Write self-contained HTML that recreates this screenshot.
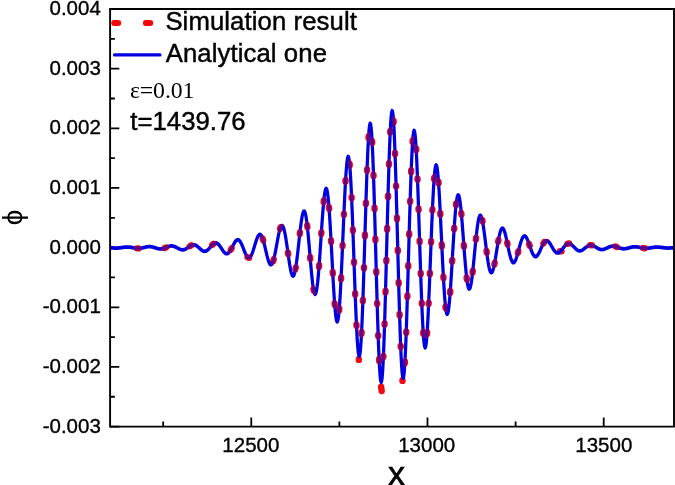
<!DOCTYPE html>
<html><head><meta charset="utf-8"><title>plot</title>
<style>html,body{margin:0;padding:0;background:#fff;width:675px;height:485px;overflow:hidden}</style>
</head><body>
<svg width="675" height="485" viewBox="0 0 675 485" style="display:block;position:absolute;left:0;top:0">
<rect width="675" height="485" fill="#fff"/>
<path d="M110.1,9.00 h9.2 M110.1,68.66 h9.2 M110.1,128.31 h9.2 M110.1,187.97 h9.2 M110.1,247.63 h9.2 M110.1,307.29 h9.2 M110.1,366.94 h9.2 M110.1,426.60 h9.2 M110.1,38.83 h4.8 M110.1,98.49 h4.8 M110.1,158.14 h4.8 M110.1,217.80 h4.8 M110.1,277.46 h4.8 M110.1,337.11 h4.8 M110.1,396.77 h4.8 M251.27,426.6 v-9.2 M427.49,426.6 v-9.2 M603.71,426.6 v-9.2 M163.17,426.6 v-5.2 M339.38,426.6 v-5.2 M515.60,426.6 v-5.2" stroke="#000" stroke-width="1.8" fill="none"/>
<clipPath id="pc"><rect x="110.1" y="9.0" width="563.9" height="417.6"/></clipPath>
<g clip-path="url(#pc)"><g transform="scale(1.0 1)">
<path d="M136.98,248.35 L137.14,248.36 L137.30,248.37 L137.46,248.38 L137.62,248.39 L137.78,248.39 L137.94,248.40 L138.10,248.40 L138.26,248.40 L138.42,248.40 L138.42,248.40 M164.72,248.01 L164.88,247.95 L165.04,247.89 L165.20,247.82 L165.36,247.76 L165.52,247.69 L165.68,247.63 L165.84,247.56 L166.00,247.49 L166.08,247.46 M189.96,246.12 L190.12,246.02 L190.28,245.92 L190.44,245.83 L190.60,245.74 L190.76,245.65 L190.92,245.56 L191.08,245.48 L191.24,245.40 L191.26,245.39 M212.24,244.91 L212.40,244.75 L212.56,244.59 L212.72,244.44 L212.88,244.29 L213.04,244.15 L213.20,244.01 L213.36,243.88 L213.38,243.87 M230.82,249.80 L230.98,249.51 L231.14,249.22 L231.30,248.93 L231.46,248.63 L231.58,248.40 M247.68,257.30 L247.84,257.43 L248.00,257.55 L248.16,257.65 L248.32,257.73 L248.48,257.79 L248.64,257.82 L248.80,257.84 L248.96,257.83 L249.02,257.82 M262.72,238.69 L262.88,239.17 L263.04,239.66 L263.20,240.18 L263.22,240.25 M273.26,260.95 L273.42,260.43 L273.58,259.87 L273.72,259.37 M280.06,228.74 L280.22,228.25 L280.38,227.81 L280.54,227.40 L280.62,227.21 M287.94,252.75 L288.10,253.89 L288.14,254.18 M295.50,269.02 L295.66,268.11 L295.78,267.39 M299.78,233.84 L299.94,232.43 L299.94,232.43 M307.22,225.49 L307.38,226.92 L307.38,226.92 M310.14,257.26 L310.26,258.68 M313.44,289.17 L313.60,290.08 L313.72,290.70 M319.02,266.79 L319.14,265.21 M321.30,233.71 L321.38,232.51 M323.68,202.13 L323.84,200.51 L323.84,200.51 M328.98,207.28 L329.10,208.86 M331.04,240.45 L331.12,241.93 M332.72,272.11 L332.80,273.59 M334.62,303.36 L334.72,304.69 M339.16,310.16 L339.28,308.71 M341.06,279.01 L341.14,277.37 M342.54,246.11 L342.58,245.17 M343.88,214.77 L343.92,213.86 M345.50,181.68 L345.58,180.31 M349.62,163.82 L349.76,165.34 M351.60,197.29 L351.64,198.20 M352.88,229.62 L352.92,230.71 M354.02,261.74 L354.06,262.88 M355.16,293.54 L355.20,294.61 M356.44,324.62 L356.50,325.89 M361.50,333.77 L361.58,332.20 M362.86,301.19 L362.90,300.07 M363.94,268.44 L363.98,267.15 M364.92,236.14 L364.96,234.81 M365.90,203.97 L365.94,202.69 M367.02,170.62 L367.06,169.54 M368.50,137.86 L368.58,136.57 M372.12,141.32 L372.20,142.84 M373.50,174.84 L373.54,176.02 M374.52,207.70 L374.56,209.09 M375.38,238.58 L375.42,240.05 M376.26,271.13 L376.30,272.60 M377.16,303.29 L377.18,303.98 M378.16,335.08 L378.20,336.23 M379.12,359.31 L379.20,360.98 M383.38,357.04 L383.42,356.14 M384.56,324.73 L384.60,323.46 M385.50,292.42 L385.54,290.95 M386.32,261.41 L386.36,259.87 M387.14,229.57 L387.18,228.03 M388.00,197.19 L388.04,195.74 M388.96,164.64 L389.00,163.40 M390.18,132.45 L390.24,131.20 M393.54,120.83 L393.62,122.04 M395.02,153.00 L395.06,154.13 M396.06,185.81 L396.08,186.50 M396.94,217.71 L396.98,219.22 M397.78,249.73 L397.82,251.26 M398.64,282.13 L398.68,283.59 M399.56,314.16 L399.60,315.45 M400.66,345.92 L400.70,346.91 M404.86,363.18 L404.94,361.78 M406.20,332.77 L406.24,331.66 M407.36,296.99 L407.40,295.65 M408.24,266.57 L408.28,265.16 M409.14,234.79 L409.18,233.40 M410.12,201.85 L410.16,200.58 M411.14,172.04 L411.20,170.48 M412.60,141.92 L412.70,140.51 M416.14,148.59 L416.22,150.02 M417.50,178.69 L417.54,179.74 M418.56,208.67 L418.60,209.87 M419.60,240.65 L419.64,241.90 M420.66,272.90 L420.70,274.07 M421.76,302.90 L421.80,303.89 M423.20,332.34 L423.30,333.86 M427.04,333.92 L427.14,332.47 M428.64,303.86 L428.68,302.95 M429.86,274.04 L429.90,273.01 M431.08,242.34 L431.12,241.31 M432.40,210.34 L432.44,209.46 M434.12,179.03 L434.22,177.71 M438.48,181.77 L438.58,183.18 M440.28,213.08 L440.36,214.70 M441.78,244.56 L441.86,246.26 M443.38,276.61 L443.46,278.06 M445.52,306.57 L445.68,307.95 L445.70,308.11 M450.16,292.70 L450.28,291.08 M452.16,261.46 L452.24,260.11 M454.12,229.14 L454.20,227.93 M456.06,204.98 L456.22,203.56 L456.22,203.56 M461.32,213.19 L461.44,214.51 M463.82,244.90 L463.94,246.50 M466.66,277.62 L466.82,278.94 L466.86,279.26 M472.62,272.41 L472.78,270.96 L472.78,270.96 M475.88,239.50 L476.04,237.96 L476.04,237.96 M482.24,219.92 L482.40,220.68 L482.56,221.49 L482.56,221.49 M486.54,250.94 L486.70,252.19 L486.74,252.50 M494.40,264.29 L494.56,263.46 L494.70,262.72 M498.16,241.68 L498.32,240.77 L498.44,240.10 M507.22,242.71 L507.38,243.49 L507.54,244.27 L507.54,244.27 M517.88,252.90 L518.04,252.30 L518.20,251.70 L518.28,251.40 M529.14,244.16 L529.30,244.63 L529.46,245.09 L529.62,245.56 L529.66,245.68 M543.48,243.40 L543.64,243.14 L543.80,242.89 L543.96,242.65 L544.12,242.42 L544.28,242.21 L544.36,242.11 M567.60,243.69 L567.76,243.63 L567.92,243.58 L568.08,243.54 L568.24,243.51 L568.40,243.49 L568.56,243.48 L568.72,243.48 L568.88,243.48 L569.02,243.49 M590.28,245.18 L590.44,245.16 L590.60,245.15 L590.76,245.15 L590.92,245.15 L591.08,245.16 L591.24,245.17 L591.40,245.18 L591.56,245.21 L591.72,245.23 L591.72,245.23 M615.40,246.49 L615.56,246.54 L615.72,246.58 L615.88,246.63 L616.04,246.67 L616.20,246.72 L616.36,246.78 L616.52,246.83 L616.68,246.88 L616.80,246.92 M643.18,248.08 L643.34,248.11 L643.50,248.13 L643.66,248.15 L643.82,248.17 L643.98,248.19 L644.14,248.21 L644.30,248.22 L644.46,248.24 L644.62,248.25 L644.62,248.25" fill="none" stroke="#ea0a1c" stroke-width="6.4" stroke-linecap="round" stroke-linejoin="round"/>
<path d="M358.80,359.3 v0.6 M381.10,386.8 L381.70,391 M402.50,380.3 v0.6 M560.00,251.3 h1.5" fill="none" stroke="#f20a12" stroke-width="6.4" stroke-linecap="round"/>
</g><g transform="scale(0.87 1)">
<path d="M126.55,247.59 L127.13,247.65 L127.70,247.71 L128.28,247.76 L128.85,247.82 L129.43,247.88 L130.00,247.93 L130.57,247.97 L131.15,248.01 L131.72,248.04 L132.30,248.07 L132.87,248.08 L133.45,248.09 L134.02,248.09 L134.60,248.08 L135.17,248.05 L135.75,248.02 L136.32,247.99 L136.90,247.94 L137.47,247.88 L138.05,247.82 L138.62,247.75 L139.20,247.68 L139.77,247.61 L140.34,247.53 L140.92,247.46 L141.49,247.39 L142.07,247.32 L142.64,247.25 L143.22,247.19 L143.79,247.14 L144.37,247.10 L144.94,247.06 L145.52,247.04 L146.09,247.03 L146.67,247.03 L147.24,247.05 L147.82,247.07 L148.39,247.11 L148.97,247.16 L149.54,247.22 L150.11,247.29 L150.69,247.37 L151.26,247.46 L151.84,247.55 L152.41,247.64 L152.99,247.74 L153.56,247.84 L154.14,247.93 L154.71,248.02 L155.29,248.11 L155.86,248.19 L156.44,248.25 L157.01,248.31 L157.59,248.36 L158.16,248.39 L158.74,248.40 L159.31,248.40 L159.89,248.38 L160.46,248.35 L161.03,248.30 L161.61,248.24 L162.18,248.16 L162.76,248.07 L163.33,247.97 L163.91,247.86 L164.48,247.75 L165.06,247.62 L165.63,247.50 L166.21,247.37 L166.78,247.25 L167.36,247.13 L167.93,247.02 L168.51,246.92 L169.08,246.83 L169.66,246.75 L170.23,246.69 L170.80,246.65 L171.38,246.63 L171.95,246.63 L172.53,246.65 L173.10,246.69 L173.68,246.75 L174.25,246.83 L174.83,246.92 L175.40,247.04 L175.98,247.17 L176.55,247.31 L177.13,247.46 L177.70,247.62 L178.28,247.78 L178.85,247.95 L179.43,248.11 L180.00,248.26 L180.57,248.41 L181.15,248.54 L181.72,248.66 L182.30,248.76 L182.87,248.83 L183.45,248.89 L184.02,248.92 L184.60,248.92 L185.17,248.90 L185.75,248.85 L186.32,248.78 L186.90,248.68 L187.47,248.55 L188.05,248.41 L188.62,248.24 L189.20,248.06 L189.77,247.86 L190.34,247.66 L190.92,247.45 L191.49,247.24 L192.07,247.03 L192.64,246.83 L193.22,246.64 L193.79,246.47 L194.37,246.31 L194.94,246.18 L195.52,246.08 L196.09,246.00 L196.67,245.96 L197.24,245.95 L197.82,245.98 L198.39,246.04 L198.97,246.13 L199.54,246.26 L200.11,246.41 L200.69,246.60 L201.26,246.81 L201.84,247.05 L202.41,247.30 L202.99,247.56 L203.56,247.83 L204.14,248.11 L204.71,248.38 L205.29,248.64 L205.86,248.89 L206.44,249.11 L207.01,249.31 L207.59,249.49 L208.16,249.62 L208.74,249.72 L209.31,249.78 L209.89,249.80 L210.46,249.77 L211.03,249.70 L211.61,249.58 L212.18,249.42 L212.76,249.22 L213.33,248.99 L213.91,248.71 L214.48,248.41 L215.06,248.09 L215.63,247.75 L216.21,247.40 L216.78,247.05 L217.36,246.69 L217.93,246.35 L218.51,246.03 L219.08,245.74 L219.66,245.47 L220.23,245.24 L220.80,245.06 L221.38,244.93 L221.95,244.84 L222.53,244.82 L223.10,244.85 L223.68,244.94 L224.25,245.08 L224.83,245.28 L225.40,245.54 L225.98,245.84 L226.55,246.19 L227.13,246.57 L227.70,246.99 L228.28,247.43 L228.85,247.88 L229.43,248.34 L230.00,248.79 L230.57,249.24 L231.15,249.65 L231.72,250.04 L232.30,250.39 L232.87,250.69 L233.45,250.93 L234.02,251.11 L234.60,251.23 L235.17,251.27 L235.75,251.24 L236.32,251.13 L236.90,250.95 L237.47,250.70 L238.05,250.37 L238.62,249.99 L239.20,249.54 L239.77,249.05 L240.34,248.51 L240.92,247.95 L241.49,247.36 L242.07,246.77 L242.64,246.18 L243.22,245.60 L243.79,245.06 L244.37,244.55 L244.94,244.10 L245.52,243.70 L246.09,243.38 L246.67,243.14 L247.24,242.98 L247.82,242.92 L248.39,242.95 L248.97,243.08 L249.54,243.30 L250.11,243.62 L250.69,244.03 L251.26,244.52 L251.84,245.09 L252.41,245.72 L252.99,246.41 L253.56,247.14 L254.14,247.90 L254.71,248.66 L255.29,249.43 L255.86,250.17 L256.44,250.89 L257.01,251.55 L257.59,252.14 L258.16,252.66 L258.74,253.09 L259.31,253.41 L259.89,253.63 L260.46,253.72 L261.03,253.69 L261.61,253.54 L262.18,253.26 L262.76,252.86 L263.33,252.34 L263.91,251.72 L264.48,250.99 L265.06,250.18 L265.63,249.30 L266.21,248.36 L266.78,247.38 L267.36,246.39 L267.93,245.40 L268.51,244.43 L269.08,243.50 L269.66,242.64 L270.23,241.86 L270.80,241.18 L271.38,240.61 L271.95,240.18 L272.53,239.89 L273.10,239.75 L273.68,239.77 L274.25,239.95 L274.83,240.30 L275.40,240.80 L275.98,241.45 L276.55,242.25 L277.13,243.18 L277.70,244.22 L278.28,245.35 L278.85,246.56 L279.43,247.82 L280.00,249.10 L280.57,250.39 L281.15,251.65 L281.72,252.85 L282.30,253.98 L282.87,255.00 L283.45,255.90 L284.02,256.64 L284.60,257.22 L285.17,257.62 L285.75,257.81 L286.32,257.81 L286.90,257.59 L287.47,257.17 L288.05,256.54 L288.62,255.71 L289.20,254.70 L289.77,253.51 L290.34,252.18 L290.92,250.72 L291.49,249.17 L292.07,247.55 L292.64,245.89 L293.22,244.22 L293.79,242.59 L294.37,241.02 L294.94,239.56 L295.52,238.22 L296.09,237.04 L296.67,236.06 L297.24,235.29 L297.82,234.75 L298.39,234.47 L298.97,234.45 L299.54,234.70 L300.11,235.22 L300.69,236.01 L301.26,237.06 L301.84,238.35 L302.41,239.86 L302.99,241.56 L303.56,243.43 L304.14,245.43 L304.71,247.52 L305.29,249.67 L305.86,251.82 L306.44,253.93 L307.01,255.97 L307.59,257.88 L308.16,259.63 L308.74,261.17 L309.31,262.47 L309.89,263.50 L310.46,264.22 L311.03,264.62 L311.61,264.68 L312.18,264.39 L312.76,263.75 L313.33,262.76 L313.91,261.44 L314.48,259.80 L315.06,257.88 L315.63,255.70 L316.21,253.30 L316.78,250.73 L317.36,248.04 L317.93,245.28 L318.51,242.49 L319.08,239.75 L319.66,237.11 L320.23,234.62 L320.80,232.34 L321.38,230.32 L321.95,228.61 L322.53,227.25 L323.10,226.28 L323.68,225.72 L324.25,225.60 L324.83,225.93 L325.40,226.72 L325.98,227.95 L326.55,229.61 L327.13,231.69 L327.70,234.13 L328.28,236.92 L328.85,239.99 L329.43,243.28 L330.00,246.74 L330.57,250.31 L331.15,253.89 L331.72,257.44 L332.30,260.86 L332.87,264.09 L333.45,267.06 L334.02,269.70 L334.60,271.95 L335.17,273.74 L335.75,275.05 L336.32,275.82 L336.90,276.03 L337.47,275.66 L338.05,274.70 L338.62,273.17 L339.20,271.08 L339.77,268.46 L340.34,265.34 L340.92,261.80 L341.49,257.88 L342.07,253.66 L342.64,249.22 L343.22,244.64 L343.79,240.02 L344.37,235.46 L344.94,231.03 L345.52,226.85 L346.09,223.00 L346.67,219.56 L347.24,216.62 L347.82,214.26 L348.39,212.52 L348.97,211.46 L349.54,211.13 L350.11,211.54 L350.69,212.69 L351.26,214.59 L351.84,217.22 L352.41,220.52 L352.99,224.46 L353.56,228.96 L354.14,233.95 L354.71,239.34 L355.29,245.01 L355.86,250.86 L356.44,256.79 L357.01,262.65 L357.59,268.34 L358.16,273.73 L358.74,278.71 L359.31,283.16 L359.89,286.98 L360.46,290.08 L361.03,292.37 L361.61,293.80 L362.18,294.31 L362.76,293.87 L363.33,292.47 L363.91,290.13 L364.48,286.85 L365.06,282.70 L365.63,277.74 L366.21,272.05 L366.78,265.74 L367.36,258.91 L367.93,251.70 L368.51,244.26 L369.08,236.72 L369.66,229.23 L370.23,221.97 L370.80,215.07 L371.38,208.69 L371.95,202.98 L372.53,198.06 L373.10,194.04 L373.68,191.05 L374.25,189.15 L374.83,188.41 L375.40,188.87 L375.98,190.54 L376.55,193.43 L377.13,197.48 L377.70,202.65 L378.28,208.86 L378.85,215.98 L379.43,223.91 L380.00,232.49 L380.57,241.56 L381.15,250.94 L381.72,260.44 L382.30,269.88 L382.87,279.05 L383.45,287.77 L384.02,295.84 L384.60,303.09 L385.17,309.35 L385.75,314.46 L386.32,318.31 L386.90,320.79 L387.47,321.81 L388.05,321.33 L388.62,319.33 L389.20,315.82 L389.77,310.85 L390.34,304.48 L390.92,296.82 L391.49,288.00 L392.07,278.19 L392.64,267.56 L393.22,256.33 L393.79,244.70 L394.37,232.91 L394.94,221.20 L395.52,209.82 L396.09,199.00 L396.67,188.97 L397.24,179.97 L397.82,172.19 L398.39,165.81 L398.97,161.00 L399.54,157.87 L400.11,156.53 L400.69,157.03 L401.26,159.40 L401.84,163.61 L402.41,169.62 L402.99,177.33 L403.56,186.61 L404.14,197.29 L404.71,209.19 L405.29,222.07 L405.86,235.68 L406.44,249.76 L407.01,264.02 L407.59,278.18 L408.16,291.93 L408.74,305.00 L409.31,317.09 L409.89,327.95 L410.46,337.33 L411.03,345.01 L411.61,350.82 L412.18,354.60 L412.76,356.24 L413.33,355.69 L413.91,352.93 L414.48,347.96 L415.06,340.88 L415.63,331.80 L416.21,320.87 L416.78,308.30 L417.36,294.32 L417.93,279.21 L418.51,263.27 L419.08,246.80 L419.66,230.14 L420.23,213.65 L420.80,197.65 L421.38,182.48 L421.95,168.47 L422.53,155.92 L423.10,145.10 L423.68,136.26 L424.25,129.60 L424.83,125.28 L425.40,123.41 L425.98,124.06 L426.55,127.23 L427.13,132.90 L427.70,140.95 L428.28,151.26 L428.85,163.62 L429.43,177.81 L430.00,193.53 L430.57,210.48 L431.15,228.33 L431.72,246.70 L432.30,265.23 L432.87,283.53 L433.45,301.23 L434.02,317.95 L434.60,333.34 L435.17,347.08 L435.75,358.88 L436.32,368.47 L436.90,375.66 L437.47,380.28 L438.05,382.21 L438.62,381.42 L439.20,377.90 L439.77,371.72 L440.34,362.99 L440.92,351.88 L441.49,338.61 L442.07,323.46 L442.64,306.72 L443.22,288.74 L443.79,269.89 L444.37,250.55 L444.94,231.12 L445.52,212.00 L446.09,193.58 L446.67,176.25 L447.24,160.36 L447.82,146.24 L448.39,134.18 L448.97,124.42 L449.54,117.17 L450.11,112.58 L450.69,110.74 L451.26,111.67 L451.84,115.36 L452.41,121.73 L452.99,130.64 L453.56,141.90 L454.14,155.27 L454.71,170.48 L455.29,187.19 L455.86,205.08 L456.44,223.75 L457.01,242.84 L457.59,261.94 L458.16,280.66 L458.74,298.62 L459.31,315.45 L459.89,330.82 L460.46,344.42 L461.03,355.98 L461.61,365.27 L462.18,372.13 L462.76,376.41 L463.33,378.06 L463.91,377.06 L464.48,373.45 L465.06,367.32 L465.63,358.82 L466.21,348.13 L466.78,335.51 L467.36,321.21 L467.93,305.56 L468.51,288.87 L469.08,271.51 L469.66,253.82 L470.23,236.19 L470.80,218.96 L471.38,202.49 L471.95,187.10 L472.53,173.09 L473.10,160.75 L473.68,150.29 L474.25,141.92 L474.83,135.78 L475.40,131.96 L475.98,130.53 L476.55,131.48 L477.13,134.76 L477.70,140.28 L478.28,147.89 L478.85,157.43 L479.43,168.65 L480.00,181.32 L480.57,195.16 L481.15,209.87 L481.72,225.14 L482.30,240.65 L482.87,256.09 L483.45,271.13 L484.02,285.49 L484.60,298.87 L485.17,311.02 L485.75,321.71 L486.32,330.75 L486.90,337.97 L487.47,343.27 L488.05,346.55 L488.62,347.79 L489.20,346.99 L489.77,344.20 L490.34,339.52 L490.92,333.05 L491.49,324.98 L492.07,315.47 L492.64,304.76 L493.22,293.08 L493.79,280.68 L494.37,267.83 L494.94,254.78 L495.52,241.82 L496.09,229.20 L496.67,217.18 L497.24,205.97 L497.82,195.81 L498.39,186.87 L498.97,179.31 L499.54,173.26 L500.11,168.82 L500.69,166.04 L501.26,164.96 L501.84,165.56 L502.41,167.81 L502.99,171.61 L503.56,176.88 L504.14,183.46 L504.71,191.22 L505.29,199.96 L505.86,209.49 L506.44,219.61 L507.01,230.10 L507.59,240.74 L508.16,251.31 L508.74,261.60 L509.31,271.40 L509.89,280.54 L510.46,288.83 L511.03,296.14 L511.61,302.32 L512.18,307.28 L512.76,310.94 L513.33,313.25 L513.91,314.20 L514.48,313.79 L515.06,312.06 L515.63,309.07 L516.21,304.90 L516.78,299.67 L517.36,293.50 L517.93,286.54 L518.51,278.93 L519.08,270.86 L519.66,262.48 L520.23,253.98 L520.80,245.53 L521.38,237.30 L521.95,229.45 L522.53,222.12 L523.10,215.47 L523.68,209.60 L524.25,204.62 L524.83,200.60 L525.40,197.62 L525.98,195.71 L526.55,194.88 L527.13,195.13 L527.70,196.42 L528.28,198.72 L528.85,201.95 L529.43,206.03 L530.00,210.86 L530.57,216.32 L531.15,222.30 L531.72,228.65 L532.30,235.25 L532.87,241.95 L533.45,248.62 L534.02,255.13 L534.60,261.34 L535.17,267.15 L535.75,272.43 L536.32,277.10 L536.90,281.08 L537.47,284.30 L538.05,286.71 L538.62,288.28 L539.20,289.00 L539.77,288.88 L540.34,287.92 L540.92,286.19 L541.49,283.71 L542.07,280.57 L542.64,276.83 L543.22,272.59 L543.79,267.94 L544.37,262.99 L544.94,257.84 L545.52,252.59 L546.09,247.37 L546.67,242.27 L547.24,237.38 L547.82,232.82 L548.39,228.65 L548.97,224.96 L549.54,221.80 L550.11,219.23 L550.69,217.30 L551.26,216.01 L551.84,215.39 L552.41,215.43 L552.99,216.11 L553.56,217.41 L554.14,219.29 L554.71,221.70 L555.29,224.57 L555.86,227.84 L556.44,231.44 L557.01,235.28 L557.59,239.28 L558.16,243.36 L558.74,247.43 L559.31,251.41 L559.89,255.23 L560.46,258.81 L561.03,262.08 L561.61,264.99 L562.18,267.48 L562.76,269.52 L563.33,271.07 L563.91,272.12 L564.48,272.65 L565.06,272.67 L565.63,272.18 L566.21,271.22 L566.78,269.80 L567.36,267.96 L567.93,265.77 L568.51,263.25 L569.08,260.48 L569.66,257.52 L570.23,254.42 L570.80,251.26 L571.38,248.10 L571.95,245.00 L572.53,242.02 L573.10,239.23 L573.68,236.66 L574.25,234.38 L574.83,232.41 L575.40,230.80 L575.98,229.56 L576.55,228.70 L577.13,228.25 L577.70,228.20 L578.28,228.54 L578.85,229.26 L579.43,230.33 L580.00,231.72 L580.57,233.39 L581.15,235.32 L581.72,237.45 L582.30,239.73 L582.87,242.12 L583.45,244.57 L584.02,247.02 L584.60,249.43 L585.17,251.74 L585.75,253.93 L586.32,255.93 L586.90,257.72 L587.47,259.27 L588.05,260.55 L588.62,261.54 L589.20,262.23 L589.77,262.60 L590.34,262.67 L590.92,262.44 L591.49,261.92 L592.07,261.11 L592.64,260.06 L593.22,258.78 L593.79,257.31 L594.37,255.68 L594.94,253.92 L595.52,252.08 L596.09,250.19 L596.67,248.29 L597.24,246.42 L597.82,244.62 L598.39,242.92 L598.97,241.36 L599.54,239.95 L600.11,238.74 L600.69,237.72 L601.26,236.94 L601.84,236.38 L602.41,236.06 L602.99,235.99 L603.56,236.14 L604.14,236.53 L604.71,237.13 L605.29,237.92 L605.86,238.90 L606.44,240.02 L607.01,241.27 L607.59,242.62 L608.16,244.04 L608.74,245.50 L609.31,246.97 L609.89,248.42 L610.46,249.82 L611.03,251.14 L611.61,252.36 L612.18,253.46 L612.76,254.42 L613.33,255.21 L613.91,255.84 L614.48,256.29 L615.06,256.55 L615.63,256.63 L616.21,256.53 L616.78,256.25 L617.36,255.80 L617.93,255.20 L618.51,254.46 L619.08,253.60 L619.66,252.64 L620.23,251.60 L620.80,250.51 L621.38,249.38 L621.95,248.25 L622.53,247.13 L623.10,246.04 L623.68,245.01 L624.25,244.06 L624.83,243.20 L625.40,242.45 L625.98,241.82 L626.55,241.32 L627.13,240.96 L627.70,240.75 L628.28,240.67 L628.85,240.74 L629.43,240.94 L630.00,241.28 L630.57,241.73 L631.15,242.29 L631.72,242.94 L632.30,243.68 L632.87,244.47 L633.45,245.32 L634.02,246.18 L634.60,247.06 L635.17,247.93 L635.75,248.77 L636.32,249.57 L636.90,250.32 L637.47,250.99 L638.05,251.58 L638.62,252.07 L639.20,252.47 L639.77,252.76 L640.34,252.93 L640.92,253.00 L641.49,252.96 L642.07,252.82 L642.64,252.57 L643.22,252.23 L643.79,251.80 L644.37,251.30 L644.94,250.74 L645.52,250.13 L646.09,249.48 L646.67,248.81 L647.24,248.13 L647.82,247.46 L648.39,246.81 L648.97,246.19 L649.54,245.61 L650.11,245.08 L650.69,244.62 L651.26,244.23 L651.84,243.92 L652.41,243.69 L652.99,243.54 L653.56,243.48 L654.14,243.50 L654.71,243.61 L655.29,243.79 L655.86,244.05 L656.44,244.37 L657.01,244.75 L657.59,245.18 L658.16,245.65 L658.74,246.15 L659.31,246.66 L659.89,247.19 L660.46,247.71 L661.03,248.21 L661.61,248.70 L662.18,249.15 L662.76,249.56 L663.33,249.92 L663.91,250.23 L664.48,250.47 L665.06,250.66 L665.63,250.78 L666.21,250.83 L666.78,250.82 L667.36,250.75 L667.93,250.61 L668.51,250.42 L669.08,250.17 L669.66,249.88 L670.23,249.56 L670.80,249.20 L671.38,248.81 L671.95,248.42 L672.53,248.01 L673.10,247.61 L673.68,247.22 L674.25,246.84 L674.83,246.49 L675.40,246.17 L675.98,245.89 L676.55,245.64 L677.13,245.45 L677.70,245.30 L678.28,245.20 L678.85,245.15 L679.43,245.16 L680.00,245.21 L680.57,245.31 L681.15,245.46 L681.72,245.64 L682.30,245.86 L682.87,246.11 L683.45,246.39 L684.02,246.68 L684.60,246.99 L685.17,247.30 L685.75,247.61 L686.32,247.92 L686.90,248.21 L687.47,248.48 L688.05,248.73 L688.62,248.95 L689.20,249.14 L689.77,249.30 L690.34,249.42 L690.92,249.50 L691.49,249.54 L692.07,249.54 L692.64,249.50 L693.22,249.43 L693.79,249.32 L694.37,249.18 L694.94,249.01 L695.52,248.82 L696.09,248.61 L696.67,248.38 L697.24,248.15 L697.82,247.91 L698.39,247.66 L698.97,247.43 L699.54,247.20 L700.11,246.99 L700.69,246.79 L701.26,246.62 L701.84,246.47 L702.41,246.35 L702.99,246.25 L703.56,246.19 L704.14,246.16 L704.71,246.15 L705.29,246.18 L705.86,246.23 L706.44,246.31 L707.01,246.42 L707.59,246.55 L708.16,246.69 L708.74,246.86 L709.31,247.03 L709.89,247.21 L710.46,247.40 L711.03,247.58 L711.61,247.77 L712.18,247.94 L712.76,248.11 L713.33,248.26 L713.91,248.39 L714.48,248.51 L715.06,248.61 L715.63,248.68 L716.21,248.74 L716.78,248.76 L717.36,248.77 L717.93,248.75 L718.51,248.71 L719.08,248.65 L719.66,248.57 L720.23,248.47 L720.80,248.36 L721.38,248.24 L721.95,248.11 L722.53,247.97 L723.10,247.82 L723.68,247.68 L724.25,247.54 L724.83,247.40 L725.40,247.27 L725.98,247.15 L726.55,247.05 L727.13,246.95 L727.70,246.88 L728.28,246.82 L728.85,246.78 L729.43,246.75 L730.00,246.75 L730.57,246.76 L731.15,246.79 L731.72,246.83 L732.30,246.89 L732.87,246.97 L733.45,247.05 L734.02,247.15 L734.60,247.25 L735.17,247.36 L735.75,247.47 L736.32,247.58 L736.90,247.69 L737.47,247.79 L738.05,247.89 L738.62,247.99 L739.20,248.07 L739.77,248.14 L740.34,248.20 L740.92,248.25 L741.49,248.28 L742.07,248.30 L742.64,248.31 L743.22,248.30 L743.79,248.28 L744.37,248.25 L744.94,248.20 L745.52,248.15 L746.09,248.08 L746.67,248.01 L747.24,247.93 L747.82,247.85 L748.39,247.76 L748.97,247.68 L749.54,247.59 L750.11,247.51 L750.69,247.43 L751.26,247.36 L751.84,247.29 L752.41,247.24 L752.99,247.19 L753.56,247.15 L754.14,247.12 L754.71,247.11 L755.29,247.10 L755.86,247.11 L756.44,247.12 L757.01,247.15 L757.59,247.18 L758.16,247.22 L758.74,247.27 L759.31,247.33 L759.89,247.39 L760.46,247.45 L761.03,247.52 L761.61,247.59 L762.18,247.65 L762.76,247.72 L763.33,247.78 L763.91,247.83 L764.48,247.88 L765.06,247.93 L765.63,247.96 L766.21,247.99 L766.78,248.02 L767.36,248.03 L767.93,248.04 L768.51,248.03 L769.08,248.02 L769.66,248.00 L770.23,247.98 L770.80,247.94 L771.38,247.91 L771.95,247.86 L772.53,247.82 L773.10,247.77 L773.68,247.72 L774.25,247.67" fill="none" stroke="#0000e0" stroke-width="3.75" stroke-linecap="butt" stroke-linejoin="round"/>
<path d="M154.85,248.05 L155.03,248.07 L155.22,248.10 L155.40,248.13 L155.59,248.15 L155.77,248.18 L155.95,248.20 L156.14,248.22 L156.32,248.24 L156.51,248.26 L156.69,248.28 L156.87,248.30 L157.06,248.32 L157.24,248.33 L157.43,248.34 L157.61,248.36 L157.79,248.37 L157.98,248.38 L158.16,248.39 L158.34,248.39 L158.53,248.40 L158.71,248.40 L158.90,248.40 L159.08,248.40 L159.26,248.40 L159.45,248.40 L159.63,248.39 L159.82,248.39 L160.00,248.38 L160.18,248.37 L160.37,248.36 L160.55,248.34 L160.74,248.33 L160.92,248.31 L161.10,248.30 L161.29,248.28 L161.47,248.26 L161.66,248.24 L161.70,248.23 M186.80,248.70 L186.99,248.66 L187.17,248.62 L187.36,248.58 L187.54,248.54 L187.72,248.49 L187.91,248.44 L188.09,248.39 L188.28,248.34 L188.46,248.29 L188.64,248.23 L188.83,248.18 L189.01,248.12 L189.20,248.06 L189.38,248.00 L189.56,247.94 L189.75,247.87 L189.93,247.81 L190.11,247.74 L190.30,247.68 L190.48,247.61 L190.67,247.54 L190.85,247.48 L191.03,247.41 L191.22,247.34 L191.40,247.27 L191.59,247.20 L191.77,247.14 L191.95,247.07 L192.14,247.01 L192.32,246.94 L192.51,246.88 L192.69,246.81 L192.87,246.75 L193.06,246.69 L193.24,246.63 L193.36,246.60 M216.11,247.46 L216.30,247.34 L216.48,247.23 L216.67,247.12 L216.85,247.00 L217.03,246.89 L217.22,246.78 L217.40,246.67 L217.59,246.56 L217.77,246.45 L217.95,246.34 L218.14,246.24 L218.32,246.13 L218.51,246.03 L218.69,245.93 L218.87,245.84 L219.06,245.75 L219.24,245.66 L219.43,245.57 L219.61,245.49 L219.79,245.41 L219.98,245.34 L220.16,245.27 L220.34,245.20 L220.53,245.14 L220.71,245.09 L220.90,245.04 L221.08,244.99 L221.26,244.95 L221.45,244.91 L221.63,244.88 L221.82,244.86 L222.00,244.84 L222.18,244.83 L222.37,244.82 L222.37,244.82 M242.11,246.72 L242.30,246.53 L242.48,246.34 L242.67,246.16 L242.85,245.97 L243.03,245.79 L243.22,245.60 L243.40,245.43 L243.59,245.25 L243.77,245.08 L243.95,244.91 L244.14,244.75 L244.32,244.59 L244.51,244.44 L244.69,244.29 L244.87,244.15 L245.06,244.01 L245.24,243.88 L245.43,243.76 L245.61,243.65 L245.79,243.54 L245.98,243.44 L246.16,243.35 L246.34,243.26 L246.53,243.19 L246.71,243.12 L246.90,243.07 L247.08,243.02 L247.26,242.98 L247.45,242.95 L247.63,242.93 L247.66,242.93 M263.75,251.90 L263.93,251.69 L264.11,251.47 L264.30,251.23 L264.48,250.99 L264.67,250.74 L264.85,250.48 L265.03,250.21 L265.22,249.94 L265.40,249.66 L265.59,249.37 L265.77,249.08 L265.95,248.78 L266.14,248.47 L266.32,248.17 L266.51,247.85 L266.69,247.54 L266.87,247.22 L267.06,246.91 L267.24,246.59 L267.43,246.27 L267.49,246.15 M283.06,255.30 L283.24,255.59 L283.43,255.86 L283.61,256.12 L283.79,256.36 L283.98,256.59 L284.16,256.80 L284.34,256.99 L284.53,257.16 L284.71,257.31 L284.90,257.45 L285.08,257.57 L285.26,257.66 L285.45,257.74 L285.63,257.79 L285.82,257.83 L286.00,257.84 L286.18,257.83 L286.37,257.80 L286.55,257.75 L286.74,257.68 L286.92,257.58 L287.10,257.47 L287.29,257.33 L287.47,257.17 L287.66,256.99 L287.84,256.79 L288.02,256.57 L288.21,256.33 L288.23,256.30 M300.90,236.36 L301.08,236.70 L301.26,237.06 L301.45,237.44 L301.63,237.86 L301.82,238.29 L302.00,238.75 L302.18,239.23 L302.37,239.73 L302.55,240.25 L302.74,240.79 L302.92,241.35 L303.10,241.92 L303.29,242.51 L303.36,242.74 M313.03,263.32 L313.22,262.98 L313.40,262.62 L313.59,262.22 L313.77,261.79 L313.95,261.32 L314.14,260.82 L314.32,260.29 L314.51,259.73 L314.69,259.14 L314.87,258.52 L315.06,257.88 L315.24,257.21 L315.33,256.86 M321.13,231.18 L321.31,230.55 L321.49,229.96 L321.68,229.39 L321.86,228.86 L322.05,228.37 L322.23,227.91 L322.41,227.50 L322.60,227.12 L322.78,226.78 L322.97,226.48 L323.15,226.22 L323.33,226.01 L323.52,225.84 L323.70,225.71 L323.89,225.63 L324.07,225.59 L324.25,225.60 L324.37,225.63 M330.55,250.16 L330.74,251.31 L330.92,252.46 L331.10,253.61 L331.29,254.75 L331.47,255.89 L331.61,256.74 M339.08,271.54 L339.26,270.79 L339.45,269.99 L339.63,269.13 L339.82,268.22 L340.00,267.27 L340.18,266.26 L340.37,265.21 L340.41,264.94 M344.23,236.54 L344.41,235.10 L344.60,233.66 L344.78,232.25 L344.97,230.86 L345.10,229.83 M352.76,222.81 L352.94,224.12 L353.13,225.49 L353.31,226.92 L353.49,228.40 L353.63,229.54 M356.23,254.65 L356.41,256.55 L356.60,258.44 L356.78,260.32 L356.87,261.26 M359.84,286.70 L360.02,287.79 L360.21,288.81 L360.39,289.75 L360.57,290.60 L360.76,291.37 L360.94,292.06 L361.13,292.66 L361.31,293.17 L361.36,293.28 M366.46,269.34 L366.64,267.30 L366.83,265.21 L367.01,263.06 L367.03,262.79 M369.10,236.41 L369.29,234.01 L369.47,231.61 L369.61,229.83 M371.77,204.73 L371.95,202.98 L372.14,201.31 L372.32,199.73 L372.51,198.24 L372.53,198.06 M377.91,204.77 L378.09,206.76 L378.28,208.86 L378.46,211.04 L378.48,211.32 M380.34,237.88 L380.53,240.82 L380.71,243.79 L380.76,244.53 M382.28,269.51 L382.46,272.48 L382.64,275.43 L382.69,276.16 M384.39,300.59 L384.57,302.82 L384.76,304.95 L384.94,306.97 L384.97,307.22 M389.59,312.60 L389.77,310.85 L389.95,308.96 L390.14,306.93 L390.21,306.13 M391.89,281.43 L392.07,278.19 L392.25,274.87 L392.25,274.87 M393.59,248.91 L393.77,245.17 L393.91,242.34 M395.13,217.51 L395.31,213.86 L395.45,211.16 M396.97,184.15 L397.15,181.33 L397.33,178.64 L397.40,177.66 M401.54,161.19 L401.72,162.62 L401.91,164.24 L402.09,166.04 L402.25,167.76 M404.00,194.61 L404.18,198.20 L404.32,200.98 M405.49,226.90 L405.68,231.26 L405.77,233.46 M406.80,258.89 L406.99,263.45 L407.08,265.73 M408.11,290.86 L408.30,295.14 L408.39,297.26 M409.56,322.03 L409.75,325.47 L409.91,328.35 M415.36,336.40 L415.54,333.38 L415.72,330.17 L415.75,329.75 M416.99,303.42 L417.17,298.93 L417.24,297.22 M418.23,271.01 L418.41,265.86 L418.46,264.56 M419.36,238.81 L419.54,233.47 L419.59,232.14 M420.48,206.53 L420.67,201.42 L420.71,200.16 M421.75,173.36 L421.93,169.01 L422.02,166.88 M423.40,140.24 L423.59,137.53 L423.77,135.04 L423.86,133.88 M427.56,138.81 L427.75,141.70 L427.93,144.82 L427.95,145.22 M429.20,171.93 L429.38,176.61 L429.45,178.41 M430.41,205.63 L430.60,211.18 L430.60,211.18 M431.40,236.37 L431.59,242.26 L431.59,242.26 M432.41,268.92 L432.60,274.80 L432.60,274.80 M433.43,300.54 L433.61,306.02 L433.63,306.70 M434.57,332.75 L434.76,337.37 L434.83,339.05 M435.66,357.13 L435.84,360.57 L436.00,363.38 M440.53,359.68 L440.71,356.14 L440.85,353.33 M441.93,327.25 L442.11,322.17 L442.16,320.88 M443.03,294.61 L443.22,288.74 L443.22,288.74 M443.98,263.73 L444.16,257.54 L444.16,257.54 M444.92,231.89 L445.10,225.71 L445.10,225.71 M445.91,199.37 L446.09,193.58 L446.09,193.58 M446.99,167.15 L447.17,162.18 L447.22,160.96 M448.34,135.06 L448.53,131.62 L448.71,128.41 L448.71,128.41 M452.11,118.09 L452.30,120.25 L452.48,122.67 L452.62,124.66 M453.95,150.78 L454.14,155.27 L454.21,157.00 M455.15,183.06 L455.33,188.59 L455.36,189.28 M456.18,215.46 L456.37,221.48 L456.37,221.48 M457.15,247.44 L457.33,253.56 L457.33,253.56 M458.14,279.92 L458.32,285.78 L458.32,285.78 M459.17,311.54 L459.36,316.74 L459.40,318.02 M460.41,343.41 L460.60,347.39 L460.71,349.77 M465.17,365.80 L465.36,363.18 L465.54,360.33 L465.61,359.20 M466.78,335.51 L466.97,331.10 L467.06,328.84 M468.14,299.65 L468.32,294.30 L468.37,292.95 M469.17,268.69 L469.36,263.04 L469.36,263.04 M470.21,236.89 L470.39,231.31 L470.39,231.31 M471.31,204.41 L471.49,199.31 L471.54,198.06 M472.48,174.16 L472.67,169.97 L472.76,167.94 M474.07,144.36 L474.25,141.92 L474.44,139.70 L474.60,137.96 M478.14,145.89 L478.32,148.59 L478.51,151.49 L478.57,152.62 M479.77,176.10 L479.95,180.26 L480.05,182.39 M481.01,206.28 L481.20,211.08 L481.24,212.29 M482.21,238.17 L482.39,243.14 L482.44,244.38 M483.43,270.54 L483.61,275.23 L483.66,276.39 M484.67,300.39 L484.85,304.38 L484.94,306.32 M486.25,329.75 L486.44,332.34 L486.62,334.74 L486.76,336.41 M490.64,336.37 L490.83,334.20 L491.01,331.87 L491.15,330.01 M492.55,306.55 L492.74,302.95 L492.87,300.19 M493.98,276.60 L494.16,272.49 L494.25,270.42 M495.38,244.91 L495.56,240.80 L495.66,238.75 M496.87,213.04 L497.06,209.46 L497.20,206.83 M498.78,181.57 L498.97,179.31 L499.15,177.20 L499.33,175.26 L499.36,175.02 M503.77,179.10 L503.95,181.22 L504.14,183.46 L504.30,185.52 M505.93,210.68 L506.11,213.89 L506.30,217.14 L506.30,217.14 M507.66,242.01 L507.84,245.41 L508.02,248.79 L508.02,248.79 M509.47,274.04 L509.66,276.98 L509.84,279.84 L509.89,280.54 M511.79,304.04 L511.98,305.64 L512.16,307.10 L512.34,308.43 L512.53,309.63 L512.71,310.69 L512.71,310.69 M517.20,295.32 L517.38,293.24 L517.56,291.08 L517.75,288.84 L517.77,288.56 M519.54,264.17 L519.72,261.46 L519.91,258.75 L520.00,257.38 M521.77,231.91 L521.95,229.45 L522.14,227.04 L522.28,225.27 M523.91,207.49 L524.09,205.92 L524.28,204.44 L524.46,203.06 L524.64,201.78 L524.78,200.89 M529.95,210.45 L530.14,212.12 L530.32,213.85 L530.51,215.64 L530.67,217.25 M532.92,242.49 L533.10,244.63 L533.29,246.76 L533.47,248.89 L533.47,248.89 M536.07,275.13 L536.25,276.58 L536.44,277.95 L536.62,279.26 L536.80,280.49 L536.99,281.65 L537.01,281.78 M542.90,275.02 L543.08,273.65 L543.26,272.23 L543.45,270.77 L543.63,269.28 L543.75,268.32 M546.69,242.07 L546.87,240.48 L547.06,238.92 L547.24,237.38 L547.43,235.88 L547.49,235.33 M553.56,217.41 L553.75,217.96 L553.93,218.55 L554.11,219.21 L554.30,219.92 L554.48,220.68 L554.67,221.49 L554.85,222.35 L555.03,223.26 L555.17,223.96 M558.87,248.39 L559.06,249.67 L559.24,250.94 L559.43,252.19 L559.61,253.42 L559.79,254.63 L559.86,255.08 M567.68,266.78 L567.86,266.05 L568.05,265.29 L568.23,264.49 L568.41,263.67 L568.60,262.83 L568.78,261.95 L568.97,261.05 L569.15,260.14 L569.15,260.14 M572.11,244.15 L572.30,243.19 L572.48,242.26 L572.67,241.33 L572.85,240.43 L573.03,239.55 L573.22,238.69 L573.40,237.86 L573.47,237.56 M582.41,240.20 L582.60,240.97 L582.78,241.74 L582.97,242.51 L583.15,243.29 L583.33,244.08 L583.52,244.86 L583.70,245.65 L583.89,246.43 L583.98,246.83 M594.46,255.40 L594.64,254.85 L594.83,254.28 L595.01,253.70 L595.20,253.12 L595.38,252.52 L595.56,251.93 L595.75,251.32 L595.93,250.72 L596.11,250.11 L596.30,249.50 L596.48,248.89 L596.48,248.89 M607.22,241.75 L607.40,242.18 L607.59,242.62 L607.77,243.07 L607.95,243.53 L608.14,243.99 L608.32,244.45 L608.51,244.92 L608.69,245.39 L608.87,245.86 L609.06,246.33 L609.24,246.80 L609.43,247.26 L609.61,247.73 L609.75,248.08 M623.33,245.62 L623.52,245.29 L623.70,244.97 L623.89,244.66 L624.07,244.36 L624.25,244.06 L624.44,243.77 L624.62,243.50 L624.80,243.23 L624.99,242.98 L625.17,242.74 L625.36,242.51 L625.54,242.29 L625.72,242.08 L625.91,241.89 L626.09,241.71 L626.28,241.55 L626.46,241.39 L626.64,241.26 L626.83,241.13 L627.01,241.02 L627.20,240.93 L627.38,240.85 L627.56,240.79 L627.75,240.74 L627.86,240.71 M650.18,245.02 L650.37,244.87 L650.55,244.73 L650.74,244.59 L650.92,244.46 L651.10,244.33 L651.29,244.22 L651.47,244.11 L651.66,244.01 L651.84,243.92 L652.02,243.83 L652.21,243.76 L652.39,243.69 L652.57,243.64 L652.76,243.59 L652.94,243.55 L653.13,243.52 L653.31,243.49 L653.49,243.48 L653.68,243.48 L653.86,243.48 L654.05,243.49 L654.23,243.51 L654.41,243.54 L654.60,243.58 L654.78,243.62 L654.97,243.68 L655.15,243.74 L655.33,243.81 L655.52,243.88 L655.70,243.97 L655.89,244.06 L656.07,244.16 L656.25,244.26 L656.44,244.37 L656.46,244.38 M675.98,245.89 L676.16,245.80 L676.34,245.73 L676.53,245.65 L676.71,245.58 L676.90,245.52 L677.08,245.46 L677.26,245.41 L677.45,245.36 L677.63,245.31 L677.82,245.28 L678.00,245.24 L678.18,245.21 L678.37,245.19 L678.55,245.17 L678.74,245.16 L678.92,245.15 L679.10,245.15 L679.29,245.15 L679.47,245.16 L679.66,245.17 L679.84,245.19 L680.02,245.21 L680.21,245.24 L680.39,245.28 L680.57,245.31 L680.76,245.35 L680.94,245.40 L681.13,245.45 L681.31,245.51 L681.49,245.56 L681.68,245.63 L681.86,245.69 L682.05,245.76 L682.23,245.83 L682.41,245.91 L682.60,245.99 L682.62,246.00 M704.78,246.15 L704.97,246.16 L705.15,246.17 L705.33,246.18 L705.52,246.20 L705.70,246.21 L705.89,246.24 L706.07,246.26 L706.25,246.28 L706.44,246.31 L706.62,246.34 L706.80,246.38 L706.99,246.41 L707.17,246.45 L707.36,246.49 L707.54,246.54 L707.72,246.58 L707.91,246.63 L708.09,246.67 L708.28,246.72 L708.46,246.78 L708.64,246.83 L708.83,246.88 L709.01,246.94 L709.20,246.99 L709.38,247.05 L709.56,247.11 L709.75,247.17 L709.93,247.23 L710.11,247.28 L710.30,247.34 L710.48,247.40 L710.67,247.46 L710.85,247.52 L711.03,247.58 L711.22,247.64 L711.40,247.70 L711.45,247.71 M736.71,247.65 L736.90,247.69 L737.08,247.72 L737.26,247.76 L737.45,247.79 L737.63,247.82 L737.82,247.86 L738.00,247.89 L738.18,247.92 L738.37,247.95 L738.55,247.98 L738.74,248.00 L738.92,248.03 L739.10,248.06 L739.29,248.08 L739.47,248.11 L739.66,248.13 L739.84,248.15 L740.02,248.17 L740.21,248.19 L740.39,248.21 L740.57,248.22 L740.76,248.24 L740.94,248.25 L741.13,248.26 L741.31,248.28 L741.49,248.28 L741.68,248.29 L741.86,248.30 L742.05,248.30 L742.23,248.31 L742.41,248.31 L742.60,248.31 L742.78,248.31 L742.97,248.31 L743.15,248.30 L743.33,248.30 L743.52,248.29 L743.54,248.29" fill="none" stroke="#ff0000" stroke-opacity="0.38" stroke-width="3.75" stroke-linecap="round" stroke-linejoin="round"/>
</g></g>
<path d="M110.1,8.0 V427.6 M109.1,426.6 H675.0 M674.0,427.6 V8.0 M109.1,9.0 H675.0" stroke="#000" stroke-width="1.9" fill="none"/>
<g font-family="'Liberation Sans', sans-serif" font-size="20.5" fill="#000" stroke="#000" stroke-width="0.35">
<text x="100.8" y="15.00" text-anchor="end">0.004</text>
<text x="100.8" y="74.66" text-anchor="end">0.003</text>
<text x="100.8" y="134.31" text-anchor="end">0.002</text>
<text x="100.8" y="193.97" text-anchor="end">0.001</text>
<text x="100.8" y="253.63" text-anchor="end">0.000</text>
<text x="100.8" y="313.29" text-anchor="end">-0.001</text>
<text x="100.8" y="372.94" text-anchor="end">-0.002</text>
<text x="100.8" y="432.60" text-anchor="end">-0.003</text>
<text x="250.88" y="451.5" text-anchor="middle">12500</text>
<text x="426.69" y="451.5" text-anchor="middle">13000</text>
<text x="603.81" y="451.5" text-anchor="middle">13500</text>
</g>
<g font-family="'Liberation Sans', sans-serif" fill="#000" font-size="25.7" letter-spacing="0.04" stroke="#000" stroke-width="0.45">
<text x="165.4" y="29.7" letter-spacing="0.1">Simulation result</text>
<text x="165.7" y="62.0" letter-spacing="0.1">Analytical one</text>
<text x="130.3" y="129.8">t=1439.76</text>
</g>
<g font-family="'Liberation Sans', sans-serif" fill="#000">
<text x="388.1" y="485.2" font-size="34" stroke="#000" stroke-width="0.6">x</text>
<text transform="translate(21.9,217.4) rotate(-90)" text-anchor="middle" font-size="27.8">ϕ</text>
</g>
<text x="129.9" y="97.9" font-family="'Liberation Serif', serif" font-size="23.8" letter-spacing="-0.1" fill="#000">ε=0.01</text>
<path d="M114.2,23 h4 M145.9,23 h4.3" stroke="#f4060a" stroke-width="6" stroke-linecap="round" fill="none"/>
<path d="M114.5,54.9 H160" stroke="#0000e0" stroke-width="3.2" stroke-linecap="round" fill="none"/>
</svg>
</body></html>
